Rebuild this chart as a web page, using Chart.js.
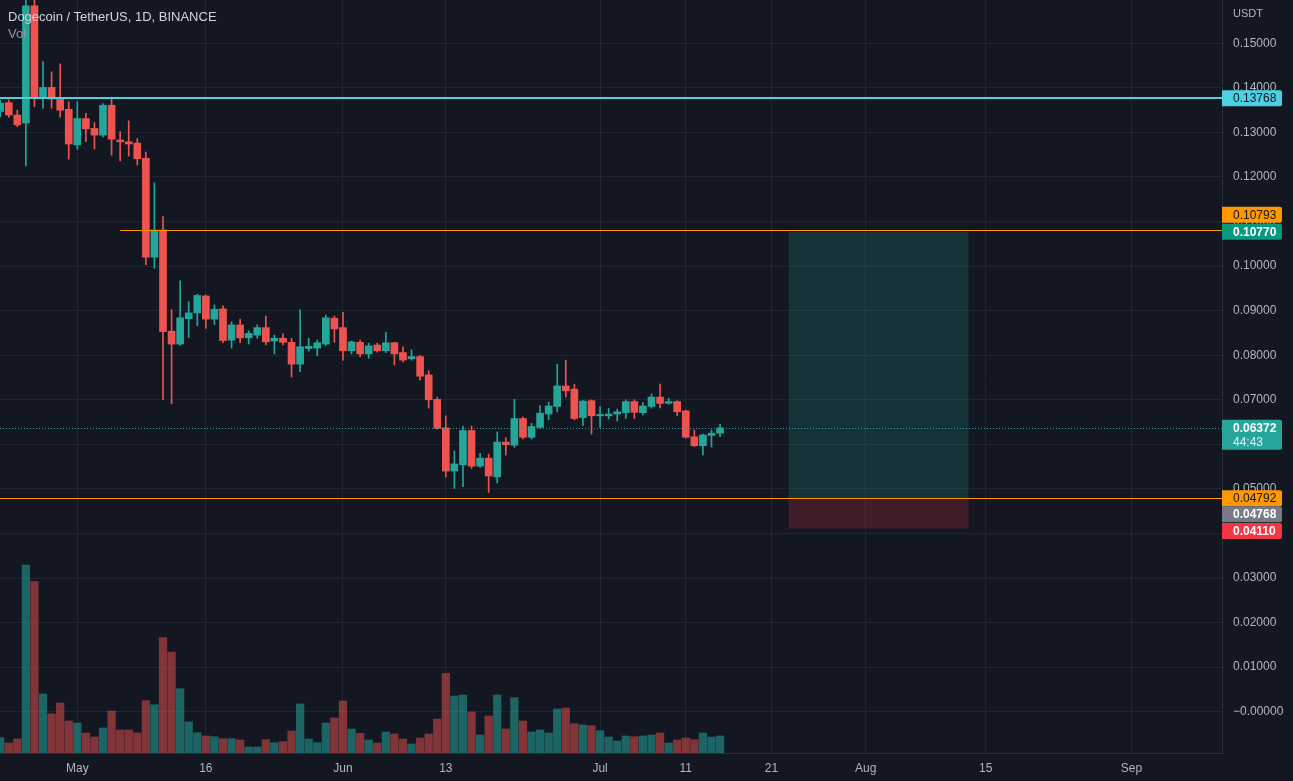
<!DOCTYPE html>
<html><head><meta charset="utf-8">
<script src="https://cdn.jsdelivr.net/npm/chart.js@4.4.1/dist/chart.umd.min.js"></script>
<style>
html,body{margin:0;padding:0;background:#131722;overflow:hidden}
#wrap{position:relative;width:1293px;height:781px}
canvas{display:block}
.t{position:absolute;font-family:"Liberation Sans",Arial,sans-serif;white-space:nowrap;line-height:1}
</style></head><body>
<div id="wrap"><canvas id="c" width="1293" height="781"></canvas>
<div class="t" style="left:8px;top:10px;font-size:13px;color:#d1d4dc">Dogecoin / TetherUS, 1D, BINANCE</div>
<div class="t" style="left:8px;top:27px;font-size:13px;color:#9598a1">Vol</div>
<div class="t" style="left:1233px;top:8px;font-size:11px;color:#b2b5be">USDT</div>
</div>
<script>
// ---- data ----
const dates = [
'2022-04-22','2022-04-23','2022-04-24','2022-04-25','2022-04-26','2022-04-27','2022-04-28','2022-04-29','2022-04-30',
'2022-05-01','2022-05-02','2022-05-03','2022-05-04','2022-05-05','2022-05-06','2022-05-07','2022-05-08','2022-05-09','2022-05-10',
'2022-05-11','2022-05-12','2022-05-13','2022-05-14','2022-05-15','2022-05-16','2022-05-17','2022-05-18','2022-05-19','2022-05-20',
'2022-05-21','2022-05-22','2022-05-23','2022-05-24','2022-05-25','2022-05-26','2022-05-27','2022-05-28','2022-05-29','2022-05-30','2022-05-31',
'2022-06-01','2022-06-02','2022-06-03','2022-06-04','2022-06-05','2022-06-06','2022-06-07','2022-06-08','2022-06-09','2022-06-10',
'2022-06-11','2022-06-12','2022-06-13','2022-06-14','2022-06-15','2022-06-16','2022-06-17','2022-06-18','2022-06-19','2022-06-20',
'2022-06-21','2022-06-22','2022-06-23','2022-06-24','2022-06-25','2022-06-26','2022-06-27','2022-06-28','2022-06-29','2022-06-30',
'2022-07-01','2022-07-02','2022-07-03','2022-07-04','2022-07-05','2022-07-06','2022-07-07','2022-07-08','2022-07-09','2022-07-10',
'2022-07-11','2022-07-12','2022-07-13','2022-07-14','2022-07-15'];
const openP = [
.1347,.1367,.1339,.1321,.1584,.1377,.1401,.1377,.1352,
.1272,.1331,.1309,.1294,.1361,.1283,.1279,.1276,.1242,.1020,
.1081,.0854,.0825,.0882,.0895,.0933,.0881,.0904,.0834,.0868,
.0839,.0845,.0862,.0832,.0838,.0829,.0780,.0815,.0816,.0825,.0883,
.0862,.0810,.0829,.0803,.0823,.0810,.0828,.0806,.0792,.0797,
.0756,.0701,.0637,.0540,.0554,.0631,.0551,.0569,.0527,.0605,
.0598,.0658,.0616,.0638,.0668,.0685,.0731,.0724,.0660,.0698,
.0664,.0664,.0668,.0671,.0696,.0671,.0685,.0706,.0692,.0696,
.0675,.0617,.0597,.0620,.0625];
const highP = [
.1372,.1373,.1350,.1700,.1660,.1459,.1436,.1454,.1369,
.1369,.1343,.1322,.1365,.1379,.1302,.1326,.1286,.1256,.1187,
.1111,.0902,.0967,.0920,.0937,.0935,.0913,.0911,.0875,.0881,
.0855,.0868,.0888,.0845,.0848,.0838,.0902,.0838,.0834,.0890,.0888,
.0896,.0832,.0834,.0827,.0827,.0851,.0829,.0819,.0812,.0800,
.0765,.0706,.0664,.0585,.0641,.0641,.0580,.0578,.0628,.0615,
.0701,.0662,.0647,.0687,.0695,.0780,.0789,.0735,.0698,.0700,
.0685,.0681,.0679,.0700,.0700,.0694,.0713,.0735,.0703,.0698,
.0677,.0632,.0623,.0632,.0645];
const lowP = [
.1335,.1334,.1313,.1225,.1358,.1354,.1354,.1334,.1240,
.1262,.1279,.1263,.1290,.1249,.1236,.1247,.1227,.1003,.0995,
.0700,.0691,.0822,.0840,.0866,.0860,.0869,.0828,.0816,.0828,
.0825,.0838,.0823,.0803,.0823,.0751,.0763,.0809,.0799,.0822,.0829,
.0789,.0803,.0797,.0793,.0807,.0806,.0778,.0785,.0789,.0744,
.0681,.0634,.0527,.0501,.0505,.0546,.0548,.0492,.0513,.0576,
.0593,.0612,.0612,.0636,.0655,.0673,.0706,.0655,.0642,.0623,
.0638,.0657,.0652,.0658,.0658,.0666,.0681,.0682,.0690,.0664,
.0614,.0595,.0576,.0594,.0617];
const closeP = [
.1366,.1339,.1317,.1584,.1377,.1401,.1375,.1350,.1274,
.1331,.1308,.1294,.1361,.1285,.1279,.1274,.1241,.1020,.1081,
.0853,.0825,.0884,.0895,.0934,.0881,.0903,.0833,.0868,.0839,
.0849,.0862,.0830,.0838,.0829,.0780,.0819,.0820,.0828,.0884,.0859,
.0810,.0830,.0803,.0821,.0810,.0828,.0803,.0789,.0797,.0753,
.0700,.0636,.0540,.0556,.0631,.0551,.0569,.0529,.0605,.0599,
.0658,.0616,.0640,.0670,.0686,.0731,.0720,.0658,.0697,.0664,
.0667,.0668,.0673,.0696,.0672,.0686,.0706,.0692,.0696,.0673,
.0616,.0597,.0621,.0625,.0637];
// volume, millions of DOGE
const volume = [
306,200,280,3760,3426,1180,780,1000,640,
600,400,320,500,840,460,460,400,1046,966,
2306,2020,1286,620,406,340,326,286,286,260,
120,120,266,206,226,440,980,280,206,600,700,
1040,480,394,260,200,420,380,280,180,300,
380,680,1594,1140,1160,820,360,740,1160,480,
1106,640,420,460,400,880,900,586,560,546,
446,320,240,340,326,340,360,400,200,260,
300,266,400,320,340];
const yTickValues = [0,0.01,0.02,0.03,0.04,0.05,0.06,0.07,0.08,0.09,0.10,0.11,0.12,0.13,0.14,0.15];
const xTickDates = ['2022-05-01','2022-05-16','2022-06-01','2022-06-13','2022-07-01','2022-07-11','2022-07-21','2022-08-01','2022-08-15','2022-09-01'];
const xTickLabels = ['May','16','Jun','13','Jul','11','21','Aug','15','Sep'];
// drawings
const levelPrices = [0.13768, 0.10793, 0.04792];
const levelStarts = [null, '2022-05-06', null];
const lastPrice = 0.06372;
const countdown = '44:43';
const longStart = '2022-07-23', longEnd = '2022-08-13';
const longTarget = 0.10770, longEntry = 0.04768, longStop = 0.04110;

// ---- helpers ----
const base = Date.UTC(2022,4,1);
const dayIdx = s => Math.round((Date.parse(s+'T00:00:00Z') - base)/86400000);
const xDays = dates.map(dayIdx);
const xTickDays = xTickDates.map(dayIdx);
const UP='#26a69a', DN='#ef5350';
const isUp = i => closeP[i] >= openP[i];
const candleCol = xDays.map((d,i)=> isUp(i)?UP:DN);
const volCol = xDays.map((d,i)=> isUp(i)?'rgba(38,166,154,0.55)':'rgba(239,83,80,0.5)');
const GRID='#21252f';
const FONT='"Liberation Sans", Arial, sans-serif';
const noPad = ax => { ax.paddingTop=0; ax.paddingBottom=0; ax.paddingLeft=0; ax.paddingRight=0; };

const overlay = {
  id:'overlay',
  beforeDraw(chart){
    const c=chart.ctx; c.save(); c.fillStyle='#131722'; c.fillRect(0,0,chart.width,chart.height); c.restore();
  },
  beforeDatasetsDraw(chart){
    const c=chart.ctx, x=chart.scales.x, y=chart.scales.y;
    const x0=x.getPixelForValue(dayIdx(longStart)), x1=x.getPixelForValue(dayIdx(longEnd));
    const yT=y.getPixelForValue(longTarget), yE=y.getPixelForValue(longEntry), yS=y.getPixelForValue(longStop);
    c.save();
    c.fillStyle='rgba(38,166,154,0.2)'; c.fillRect(x0,yT,x1-x0,yE-yT);
    c.fillStyle='rgba(242,54,69,0.2)'; c.fillRect(x0,yE,x1-x0,yS-yE);
    c.restore();
  },
  afterDatasetsDraw(chart){
    const c=chart.ctx, x=chart.scales.x, y=chart.scales.y, a=chart.chartArea;
    c.save();
    c.beginPath(); c.rect(a.left,a.top,a.right-a.left,a.bottom-a.top); c.clip();
    const yl=Math.round(y.getPixelForValue(lastPrice))+0.5;
    c.strokeStyle=UP; c.lineWidth=1; c.setLineDash([1,2]);
    c.beginPath(); c.moveTo(a.left,yl); c.lineTo(a.right,yl); c.stroke();
    c.setLineDash([]);
    const cols=['#4dd0e1','#ff9800','#ff9800'], widths=[2,1,1];
    levelPrices.forEach((p,i)=>{
      const yy=Math.round(y.getPixelForValue(p) - widths[i]/2);
      const xs=Math.round(levelStarts[i]?x.getPixelForValue(dayIdx(levelStarts[i])):a.left);
      c.fillStyle=cols[i];
      c.fillRect(xs, yy, a.right-xs, widths[i]);
    });
    c.restore();
  },
  afterDraw(chart){
    const c=chart.ctx, y=chart.scales.y, a=chart.chartArea;
    const labels=[
      {p:levelPrices[0], bg:'#4dd0e1', fg:'#131722', bold:false, dy:0},
      {p:levelPrices[1], bg:'#ff9800', fg:'#131722', bold:false, dy:-16},
      {p:longTarget, bg:'#089981', fg:'#ffffff', bold:true, dy:0},
      {p:levelPrices[2], bg:'#ff9800', fg:'#131722', bold:false, dy:0},
      {p:longEntry, bg:'#787b86', fg:'#ffffff', bold:true, dy:15},
      {p:longStop, bg:'#f23645', fg:'#ffffff', bold:true, dy:2.5}
    ];
    const bx=a.right, bw=60, bh=16;
    c.save();
    c.textBaseline='middle'; c.textAlign='left';
    const box=(t,b,bg)=>{
      c.fillStyle=bg; c.beginPath();
      c.moveTo(bx,t); c.lineTo(bx+bw-2,t); c.quadraticCurveTo(bx+bw,t,bx+bw,t+2);
      c.lineTo(bx+bw,b-2); c.quadraticCurveTo(bx+bw,b,bx+bw-2,b); c.lineTo(bx,b); c.closePath(); c.fill();
    };
    labels.forEach(l=>{
      const yc=y.getPixelForValue(l.p)+l.dy;
      box(yc-bh/2,yc+bh/2,l.bg);
      c.fillStyle=l.fg; c.font=(l.bold?'bold ':'')+'12px '+FONT;
      c.fillText(l.p.toFixed(5), bx+11, yc+0.5);
    });
    const yl=y.getPixelForValue(lastPrice);
    box(yl-8, yl+22, UP);
    c.fillStyle='#ffffff'; c.font='bold 12px '+FONT; c.fillText(lastPrice.toFixed(5), bx+11, yl+0.5);
    c.fillStyle='#e0f2f1'; c.font='12px '+FONT; c.fillText(countdown, bx+11, yl+15);
    c.restore();
  }
};

new Chart(document.getElementById('c'), {
  type:'bar',
  data:{ datasets:[
    { label:'body', data:xDays.map((d,i)=>({x:d,y:[openP[i],closeP[i]]})), backgroundColor:candleCol,
      barThickness:7, minBarLength:1, grouped:false, order:0, yAxisID:'y', xAxisID:'x' },
    { label:'wick', data:xDays.map((d,i)=>({x:d,y:[lowP[i],highP[i]]})), backgroundColor:candleCol,
      barThickness:1, grouped:false, order:1, yAxisID:'y', xAxisID:'x' },
    { label:'Vol', data:xDays.map((d,i)=>({x:d,y:volume[i]})), backgroundColor:volCol,
      barThickness:7.6, grouped:false, order:2, yAxisID:'yVol', xAxisID:'x' }
  ]},
  options:{
    responsive:false, animation:false, devicePixelRatio:1,
    layout:{padding:0},
    plugins:{legend:{display:false}, tooltip:{enabled:false}, title:{display:false}},
    scales:{
      x:{ type:'linear', min:-9.02, max:133.57, offset:false, position:'bottom',
        grid:{color:GRID, offset:false, drawTicks:false},
        border:{color:'#2a2e39'},
        afterBuildTicks:ax=>{ ax.ticks=xTickDays.map(v=>({value:v})); },
        afterFit:ax=>{ ax.height=28; noPad(ax); },
        ticks:{ color:'#b2b5be', font:{family:FONT,size:12}, padding:8, maxRotation:0, autoSkip:false,
          callback:v=>{ const k=xTickDays.indexOf(Math.round(v)); return k>=0?xTickLabels[k]:''; } } },
      y:{ type:'linear', position:'right', min:-0.00927, max:0.15972,
        grid:{color:GRID, drawTicks:false},
        border:{color:'#2a2e39'},
        afterBuildTicks:ax=>{ ax.ticks=yTickValues.map(v=>({value:v})); },
        afterFit:ax=>{ ax.width=71; noPad(ax); },
        ticks:{ color:'#b2b5be', font:{family:FONT,size:12}, padding:11,
          callback:v=> Math.abs(v)<1e-9 ? '\u22120.00000' : Number(v).toFixed(5) } },
      yVol:{ type:'linear', display:false, min:0, max:15060, grid:{display:false},
        afterFit:noPad }
    }
  },
  plugins:[overlay]
});
</script>
</body></html>
